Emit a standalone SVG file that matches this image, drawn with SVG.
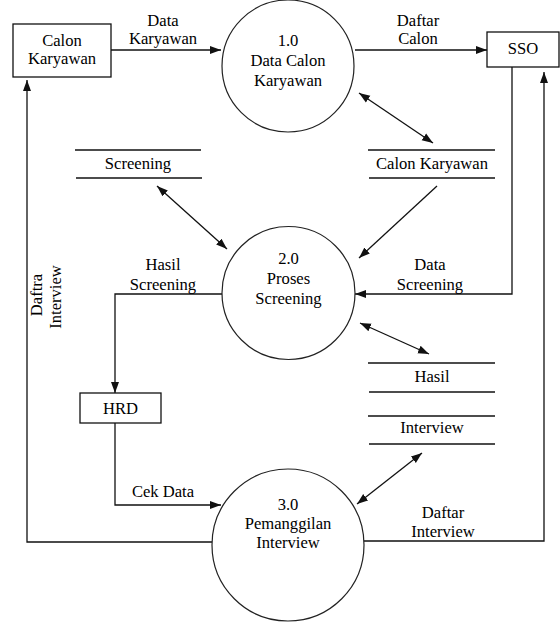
<svg xmlns="http://www.w3.org/2000/svg" width="560" height="624" viewBox="0 0 560 624">
<style>
text{font-family:'Liberation Serif','Times New Roman',serif;font-size:16.6px;fill:#000;text-anchor:middle}
.box{fill:#fff;stroke:#111;stroke-width:1.3}
.proc{fill:#fff;stroke:#222;stroke-width:1.2}
.store{stroke:#111;stroke-width:1.3}
.c{fill:none;stroke:#111;stroke-width:1.3}
.a{marker-end:url(#ah)}
.b{marker-start:url(#ah);marker-end:url(#ah)}
</style>
<defs>
<marker id="ah" markerUnits="userSpaceOnUse" markerWidth="12" markerHeight="10" refX="11" refY="4" orient="auto-start-reverse" viewBox="0 0 12 8">
<path d="M0 0 L11 4 L0 8 Z" fill="#111"/>
</marker>
</defs>
<rect width="560" height="624" fill="#fff"/>
<g id="connectors">
<path class="c a" d="M111 50 H221"/>
<path class="c a" d="M355 50 H487"/>
<path class="c b" d="M359 93 L433 143"/>
<path class="c b" d="M157 186 L227 249"/>
<path class="c a" d="M437 186 L359 258"/>
<path class="c a" d="M512 67 V294 H355"/>
<path class="c a" d="M222 294 H115 V393"/>
<path class="c b" d="M360 323 L429 354"/>
<path class="c a" d="M115 423 V505 H221"/>
<path class="c b" d="M422 453 L357 504"/>
<path class="c a" d="M212 542 H27 V80"/>
<path class="c a" d="M364 541 H544 V72"/>
<text x="163" y="26">Data</text>
<text x="163" y="44">Karyawan</text>
<text x="418" y="26">Daftar</text>
<text x="418" y="44">Calon</text>
<text x="163" y="270">Hasil</text>
<text x="163" y="290">Screening</text>
<text x="430" y="270">Data</text>
<text x="430" y="290">Screening</text>
<text x="163" y="497">Cek Data</text>
<text x="443" y="518">Daftar</text>
<text x="443" y="537">Interview</text>
<text x="42" y="295" transform="rotate(-90 42 295)">Daftra</text>
<text x="61" y="297" transform="rotate(-90 61 297)">Interview</text>
</g>
<g id="calon-karyawan">
<rect class="box" x="13" y="24" width="98" height="53"/>
<text x="62" y="46">Calon</text>
<text x="62" y="64">Karyawan</text>
</g>
<g id="sso">
<rect class="box" x="487" y="32" width="72" height="35"/>
<text x="523" y="54">SSO</text>
</g>
<g id="hrd">
<rect class="box" x="80" y="393" width="81" height="30"/>
<text x="120.5" y="414">HRD</text>
</g>
<g id="p1">
<circle class="proc" cx="288" cy="66" r="66"/>
<text x="288" y="46">1.0</text>
<text x="288" y="66">Data Calon</text>
<text x="288" y="86">Karyawan</text>
</g>
<g id="p2">
<circle class="proc" cx="288.5" cy="293" r="66.5"/>
<text x="288.5" y="264">2.0</text>
<text x="288.5" y="284">Proses</text>
<text x="288.5" y="304">Screening</text>
</g>
<g id="p3">
<circle class="proc" cx="288" cy="545" r="76"/>
<text x="288" y="510">3.0</text>
<text x="288" y="529">Pemanggilan</text>
<text x="288" y="548">Interview</text>
</g>
<g id="ds-screening">
<line class="store" x1="75" y1="150" x2="201" y2="150"/>
<line class="store" x1="76" y1="178" x2="202" y2="178"/>
<text x="138" y="169">Screening</text>
</g>
<g id="ds-calon-karyawan">
<line class="store" x1="368" y1="150" x2="495" y2="150"/>
<line class="store" x1="369" y1="178" x2="495" y2="178"/>
<text x="432" y="169">Calon Karyawan</text>
</g>
<g id="ds-hasil-interview">
<line class="store" x1="368" y1="363" x2="495" y2="363"/>
<line class="store" x1="369" y1="392" x2="495" y2="392"/>
<text x="432" y="382">Hasil</text>
<line class="store" x1="368" y1="416" x2="495" y2="416"/>
<line class="store" x1="369" y1="444" x2="495" y2="444"/>
<text x="432" y="433">Interview</text>
</g>
</svg>
